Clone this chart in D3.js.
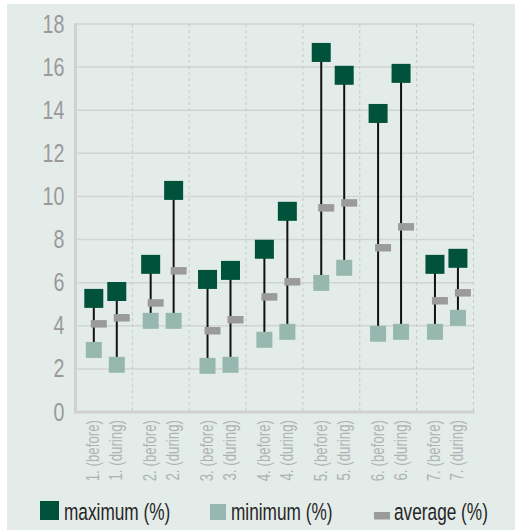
<!DOCTYPE html>
<html><head><meta charset="utf-8">
<script src="https://cdn.jsdelivr.net/npm/d3@7"></script>
<style>
body{margin:0;background:#fff;}
svg text{font-family:"Liberation Sans",Arial,sans-serif;}
</style></head>
<body><svg id="c" width="515" height="530"></svg>
<script>
const groups = ["1.","2.","3.","4.","5.","6.","7."];
const phases = ["before","during"];
const maxBefore = [5.27, 6.85, 6.15, 7.55, 16.68, 13.85, 6.85];
const maxDuring = [5.59, 10.28, 6.57, 9.31, 15.62, 15.71, 7.13];
const minBefore = [2.88, 4.23, 2.14, 3.35, 5.99, 3.63, 3.72];
const minDuring = [2.19, 4.23, 2.19, 3.72, 6.69, 3.72, 4.37];
const avgBefore = [4.09, 5.06, 3.77, 5.34, 9.47, 7.62, 5.16];
const avgDuring = [4.37, 6.55, 4.28, 6.04, 9.70, 8.59, 5.53];
const yTicks = [0,2,4,6,8,10,12,14,16,18];
const legendLabels = ["maximum (%)","minimum (%)","average (%)"];

const colMax = "#00533a", colMin = "#97b8ae", colAvg = "#9b9b9b";
const NARROW = 0.82;

const rows = [];
groups.forEach((g,i)=>{
  rows.push({g, p:"before", max:maxBefore[i], min:minBefore[i], avg:avgBefore[i]});
  rows.push({g, p:"during", max:maxDuring[i], min:minDuring[i], avg:avgDuring[i]});
});

const svg = d3.select("#c");
svg.append("rect").attr("x",7).attr("y",4).attr("width",508).attr("height",526).attr("fill","#e4ece9");

const L=75.5, R=473.5, T=24, B=412;
const x = d3.scaleBand().domain(groups).range([L,R]).padding(0);
const gw = x.bandwidth();
const xi = d3.scalePoint().domain(phases).range([gw*0.12, gw*0.928]).padding(0.5);
const y = d3.scaleLinear().domain([0,18]).range([B,T]);

// horizontal gridlines
svg.append("g").selectAll("line").data(yTicks.filter(d=>d>0)).join("line")
  .attr("x1",L).attr("x2",R).attr("y1",d=>y(d)).attr("y2",d=>y(d))
  .attr("stroke","#d0d4d2").attr("stroke-width",1.5);
// vertical dashed group separators
svg.append("g").selectAll("line").data(groups).join("line")
  .attr("x1",d=>x(d)+gw).attr("x2",d=>x(d)+gw).attr("y1",T).attr("y2",B)
  .attr("stroke","#c4c8c6").attr("stroke-width",1).attr("stroke-dasharray","3,3");
// axes lines
svg.append("line").attr("x1",L).attr("x2",L).attr("y1",T-1).attr("y2",B+1.5).attr("stroke","#d0d2d1").attr("stroke-width",3);
svg.append("line").attr("x1",L-1.5).attr("x2",R+1).attr("y1",B).attr("y2",B).attr("stroke","#d0d2d1").attr("stroke-width",3);

// y labels
svg.append("g").selectAll("text").data(yTicks).join("text")
  .attr("transform",d=>`translate(${L-11},${y(d)+8.5}) scale(${NARROW},1.04)`)
  .attr("text-anchor","end").attr("font-size",24).attr("fill","#9a9a9a")
  .text(d=>d);

// x labels
const cx = d => x(d.g) + xi(d.p);
svg.append("g").selectAll("text").data(rows).join("text")
  .attr("transform",d=>`translate(${cx(d)+5.5},${B+8}) rotate(-90) scale(0.76,1.05)`)
  .attr("text-anchor","end").attr("font-size",17.5).attr("fill","#adb3b1")
  .text(d=>`${d.g} (${d.p})`);

// high-low lines
svg.append("g").selectAll("line").data(rows).join("line")
  .attr("x1",cx).attr("x2",cx).attr("y1",d=>y(d.max)).attr("y2",d=>y(d.min))
  .attr("stroke","#111").attr("stroke-width",2);
// min markers
svg.append("g").selectAll("rect").data(rows).join("rect")
  .attr("x",d=>cx(d)-8).attr("y",d=>y(d.min)-8).attr("width",16).attr("height",16).attr("fill",colMin);
// max markers
svg.append("g").selectAll("rect").data(rows).join("rect")
  .attr("x",d=>cx(d)-9.5).attr("y",d=>y(d.max)-9.5).attr("width",19).attr("height",19).attr("fill",colMax);
// avg markers
svg.append("g").selectAll("rect").data(rows).join("rect")
  .attr("x",d=>cx(d)-3).attr("y",d=>y(d.avg)-3.75).attr("width",16).attr("height",7.5).attr("fill",colAvg);

// legend
const lg = svg.append("g");
const items = [
  {t:legendLabels[0], x:40, w:19, h:19, yy:501, c:colMax, tx:64},
  {t:legendLabels[1], x:210, w:16, h:16, yy:504, c:colMin, tx:231},
  {t:legendLabels[2], x:374, w:16, h:7.5, yy:512, c:colAvg, tx:394}
];
items.forEach(it=>{
  lg.append("text").attr("transform",`translate(${it.tx},520) scale(0.75,1.06)`)
    .attr("font-size",23).attr("fill","#262626").text(it.t);
  lg.append("rect").attr("x",it.x).attr("y",it.yy).attr("width",it.w).attr("height",it.h).attr("fill",it.c);
});
</script></body></html>
